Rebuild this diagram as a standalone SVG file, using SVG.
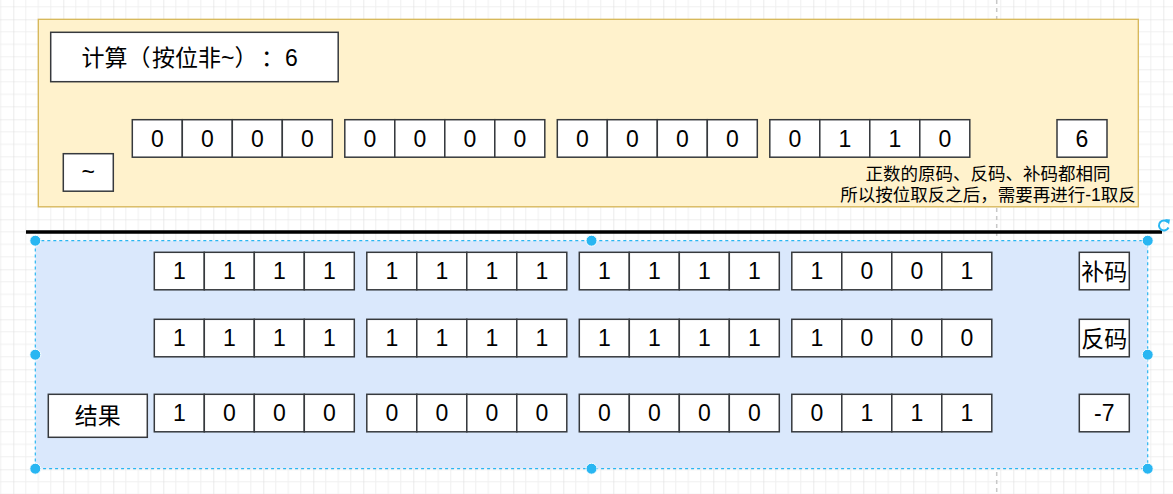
<svg xmlns="http://www.w3.org/2000/svg" xmlns:xlink="http://www.w3.org/1999/xlink" width="1173" height="494" viewBox="0 0 1173 494">
<style>
.cell{fill:#ffffff;stroke:#36393d;stroke-width:1.5}
.t{font-family:"Liberation Sans","Noto Sans CJK SC",sans-serif;font-size:23px;fill:#000;text-anchor:middle}
.ts{font-family:"Liberation Sans","Noto Sans CJK SC",sans-serif;font-size:23px;fill:#000;text-anchor:start}
.note{font-family:"Liberation Sans","Noto Sans CJK SC",sans-serif;font-size:17.5px;fill:#000;text-anchor:middle}
.handle{fill:#29b6f2;stroke:#ffffff;stroke-width:1}
</style>
<defs>
<pattern id="grid" patternUnits="userSpaceOnUse" x="13.3" y="19.3" width="50" height="50">
<path d="M12.5 0V50M25 0V50M37.5 0V50M0 12.5H50M0 25H50M0 37.5H50" stroke="#f0f0f0" stroke-width="1" fill="none"/>
<path d="M0 0V50M0 0H50" stroke="#dedede" stroke-width="1.2" fill="none"/>
</pattern>
<g id="quad">
<rect class="cell" x="0" y="0" width="50" height="37.5"/>
<rect class="cell" x="50" y="0" width="50" height="37.5"/>
<rect class="cell" x="100" y="0" width="50" height="37.5"/>
<rect class="cell" x="150" y="0" width="50" height="37.5"/>
</g>
</defs>
<rect width="1173" height="494" fill="#ffffff"/>
<rect width="1173" height="494" fill="url(#grid)"/>
<line x1="996.7" y1="0" x2="996.7" y2="494" stroke="#c8c8c8" stroke-width="1.5" stroke-dasharray="4 4"/>

<g id="top-panel">
<rect x="38.3" y="19.3" width="1100" height="187.5" fill="#fff2cc" stroke="#d6b656" stroke-width="1.3"/>
</g>
<g id="title">
<rect class="cell" x="50.7" y="32.3" width="287.5" height="49.4"/>
<text class="ts" x="81.5" y="65.5">计算</text>
<text class="ts" x="127.5" y="65.5">（</text>
<text class="ts" x="152" y="65.5">按位非~</text>
<text class="ts" x="234.5" y="65.5">）</text>
<text class="ts" x="261" y="65.5">：</text>
<text class="ts" x="285" y="65.5">6</text>
</g>
<g id="op-not">
<rect class="cell" x="63.3" y="153.7" width="50" height="37.5"/>
<text class="t" x="88.3" y="180">~</text>
</g>
<g id="input-bits">
<use xlink:href="#quad" x="132.3" y="119.7"/>
<use xlink:href="#quad" x="344.8" y="119.7"/>
<use xlink:href="#quad" x="557.3" y="119.7"/>
<use xlink:href="#quad" x="769.8" y="119.7"/>
<text class="t" x="157.3" y="146.7">0</text><text class="t" x="207.3" y="146.7">0</text><text class="t" x="257.3" y="146.7">0</text><text class="t" x="307.3" y="146.7">0</text>
<text class="t" x="369.8" y="146.7">0</text><text class="t" x="419.8" y="146.7">0</text><text class="t" x="469.8" y="146.7">0</text><text class="t" x="519.8" y="146.7">0</text>
<text class="t" x="582.3" y="146.7">0</text><text class="t" x="632.3" y="146.7">0</text><text class="t" x="682.3" y="146.7">0</text><text class="t" x="732.3" y="146.7">0</text>
<text class="t" x="794.8" y="146.7">0</text><text class="t" x="844.8" y="146.7">1</text><text class="t" x="894.8" y="146.7">1</text><text class="t" x="944.8" y="146.7">0</text>
</g>
<g id="input-value">
<rect class="cell" x="1057" y="119.7" width="50" height="37.5"/>
<text class="t" x="1082" y="146.7">6</text>
</g>
<g id="note">
<text class="note" x="988" y="179.6">正数的原码、反码、补码都相同</text>
<text class="note" x="988" y="200.8">所以按位取反之后，需要再进行-1取反</text>
</g>

<g id="connectors">
<line id="divider" x1="26" y1="232" x2="1162" y2="232" stroke="#000000" stroke-width="3.5"/>
</g>

<g id="bottom-panel">
<rect x="35.3" y="240.7" width="1112.4" height="228" fill="#dae8fc" stroke="#29b6f2" stroke-width="1.2" stroke-dasharray="3 3"/>
</g>
<g id="row-complement">
<use xlink:href="#quad" x="154.3" y="252.3"/>
<use xlink:href="#quad" x="366.8" y="252.3"/>
<use xlink:href="#quad" x="579.3" y="252.3"/>
<use xlink:href="#quad" x="791.8" y="252.3"/>
<text class="t" x="179.3" y="279.2">1</text><text class="t" x="229.3" y="279.2">1</text><text class="t" x="279.3" y="279.2">1</text><text class="t" x="329.3" y="279.2">1</text>
<text class="t" x="391.8" y="279.2">1</text><text class="t" x="441.8" y="279.2">1</text><text class="t" x="491.8" y="279.2">1</text><text class="t" x="541.8" y="279.2">1</text>
<text class="t" x="604.3" y="279.2">1</text><text class="t" x="654.3" y="279.2">1</text><text class="t" x="704.3" y="279.2">1</text><text class="t" x="754.3" y="279.2">1</text>
<text class="t" x="816.8" y="279.2">1</text><text class="t" x="866.8" y="279.2">0</text><text class="t" x="916.8" y="279.2">0</text><text class="t" x="966.8" y="279.2">1</text>
</g>
<g id="label-complement">
<rect class="cell" x="1079.3" y="252.3" width="50" height="37.5"/>
<text class="t" x="1104.3" y="279.5">补码</text>
</g>
<g id="row-ones">
<use xlink:href="#quad" x="154.3" y="319.3"/>
<use xlink:href="#quad" x="366.8" y="319.3"/>
<use xlink:href="#quad" x="579.3" y="319.3"/>
<use xlink:href="#quad" x="791.8" y="319.3"/>
<text class="t" x="179.3" y="346.2">1</text><text class="t" x="229.3" y="346.2">1</text><text class="t" x="279.3" y="346.2">1</text><text class="t" x="329.3" y="346.2">1</text>
<text class="t" x="391.8" y="346.2">1</text><text class="t" x="441.8" y="346.2">1</text><text class="t" x="491.8" y="346.2">1</text><text class="t" x="541.8" y="346.2">1</text>
<text class="t" x="604.3" y="346.2">1</text><text class="t" x="654.3" y="346.2">1</text><text class="t" x="704.3" y="346.2">1</text><text class="t" x="754.3" y="346.2">1</text>
<text class="t" x="816.8" y="346.2">1</text><text class="t" x="866.8" y="346.2">0</text><text class="t" x="916.8" y="346.2">0</text><text class="t" x="966.8" y="346.2">0</text>
</g>
<g id="label-ones">
<rect class="cell" x="1079.3" y="319.3" width="50" height="37.5"/>
<text class="t" x="1104.3" y="346.5">反码</text>
</g>
<g id="label-result">
<rect class="cell" x="48.3" y="394.3" width="99" height="43"/>
<text class="t" x="97.8" y="424">结果</text>
</g>
<g id="row-result">
<use xlink:href="#quad" x="154.3" y="394.3"/>
<use xlink:href="#quad" x="366.8" y="394.3"/>
<use xlink:href="#quad" x="579.3" y="394.3"/>
<use xlink:href="#quad" x="791.8" y="394.3"/>
<text class="t" x="179.3" y="421.2">1</text><text class="t" x="229.3" y="421.2">0</text><text class="t" x="279.3" y="421.2">0</text><text class="t" x="329.3" y="421.2">0</text>
<text class="t" x="391.8" y="421.2">0</text><text class="t" x="441.8" y="421.2">0</text><text class="t" x="491.8" y="421.2">0</text><text class="t" x="541.8" y="421.2">0</text>
<text class="t" x="604.3" y="421.2">0</text><text class="t" x="654.3" y="421.2">0</text><text class="t" x="704.3" y="421.2">0</text><text class="t" x="754.3" y="421.2">0</text>
<text class="t" x="816.8" y="421.2">0</text><text class="t" x="866.8" y="421.2">1</text><text class="t" x="916.8" y="421.2">1</text><text class="t" x="966.8" y="421.2">1</text>
</g>
<g id="result-value">
<rect class="cell" x="1079.3" y="394.3" width="50" height="37.5"/>
<text class="t" x="1104.3" y="421.2">-7</text>
</g>

<g id="selection-handles">
<circle class="handle" cx="35.3" cy="240.7" r="5.5"/>
<circle class="handle" cx="591.5" cy="240.7" r="5.5"/>
<circle class="handle" cx="1147.7" cy="240.7" r="5.5"/>
<circle class="handle" cx="35.3" cy="354.7" r="5.5"/>
<circle class="handle" cx="1147.7" cy="354.7" r="5.5"/>
<circle class="handle" cx="35.3" cy="468.7" r="5.5"/>
<circle class="handle" cx="591.5" cy="468.7" r="5.5"/>
<circle class="handle" cx="1147.7" cy="468.7" r="5.5"/>
<path d="M1168 222.5 A5 5 0 1 0 1168.5 227.5" fill="none" stroke="#29b6f2" stroke-width="2"/>
<path d="M1165 219 L1170 219.5 L1169 224.5 Z" fill="#29b6f2"/>
</g>
</svg>
